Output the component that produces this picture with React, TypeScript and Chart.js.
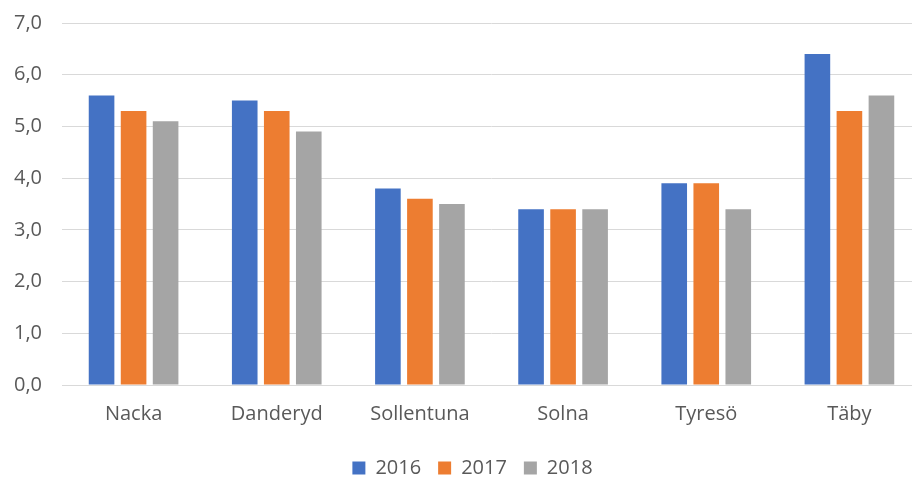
import React, { useEffect, useRef } from "react";
import { Chart, registerables } from "chart.js";

Chart.register(...registerables);

const categories = ["Nacka", "Danderyd", "Sollentuna", "Solna", "Tyresö", "Täby"];
const seriesNames = ["2016", "2017", "2018"];
const values2016 = [5.6, 5.5, 3.8, 3.4, 3.9, 6.4];
const values2017 = [5.3, 5.3, 3.6, 3.4, 3.9, 5.3];
const values2018 = [5.1, 4.9, 3.5, 3.4, 3.4, 5.6];
const yTicks = [0, 1, 2, 3, 4, 5, 6, 7];

const colors = ["#4472C4", "#ED7D31", "#A5A5A5"];
const textColor = "#595959";
const gridColor = "#d9d9d9";
const fontFamily = "'Open Sans', sans-serif";

const legendShift = {
  id: "legendShift",
  afterLayout(chart: any) {
    if (chart.legend) {
      chart.legend.left += 12;
      chart.legend.right += 12;
    }
  },
};

export default function App() {
  const ref = useRef<HTMLCanvasElement | null>(null);

  useEffect(() => {
    if (!ref.current) return;
    const allValues = [values2016, values2017, values2018];
    const chart = new Chart(ref.current, {
      type: "bar",
      data: {
        labels: categories,
        datasets: seriesNames.map((name, i) => ({
          label: name,
          data: allValues[i],
          backgroundColor: colors[i],
          borderWidth: 0,
          categoryPercentage: 0.671,
          barPercentage: 0.8,
        })),
      },
      options: {
        responsive: false,
        animation: false,
        layout: { padding: { top: 23, left: 0, right: 0, bottom: 0 } },
        plugins: {
          tooltip: { enabled: false },
          legend: {
            position: "bottom",
            labels: {
              boxWidth: 13,
              boxHeight: 13,
              padding: 17,
              color: textColor,
              font: { family: fontFamily, size: 20 },
            },
          },
        },
        scales: {
          x: {
            grid: { display: false, drawTicks: false },
            border: { color: gridColor },
            ticks: {
              color: textColor,
              font: { family: fontFamily, size: 20 },
              padding: 17,
            },
            afterFit: (s: any) => {
              s.height = 56;
            },
          },
          y: {
            min: 0,
            max: 7,
            afterBuildTicks: (s: any) => {
              s.ticks = yTicks.map((v) => ({ value: v }));
            },
            ticks: {
              color: textColor,
              font: { family: fontFamily, size: 20 },
              padding: 20,
              callback: (v: any) => Number(v).toFixed(1).replace(".", ","),
            },
            grid: { color: gridColor, drawTicks: false, lineWidth: 1 },
            border: { display: false },
            afterFit: (s: any) => {
              s.width = 62;
              s.paddingTop = 0;
              s.paddingBottom = 0;
            },
          },
        },
      },
      plugins: [legendShift],
    });
    return () => chart.destroy();
  }, []);

  return (
    <div
      style={{
        position: "absolute",
        left: 0,
        top: 0,
        width: 912,
        height: 482,
        overflow: "hidden",
        background: "#ffffff",
      }}
    >
      <canvas ref={ref} width={921} height={488} style={{ display: "block" }} />
    </div>
  );
}
